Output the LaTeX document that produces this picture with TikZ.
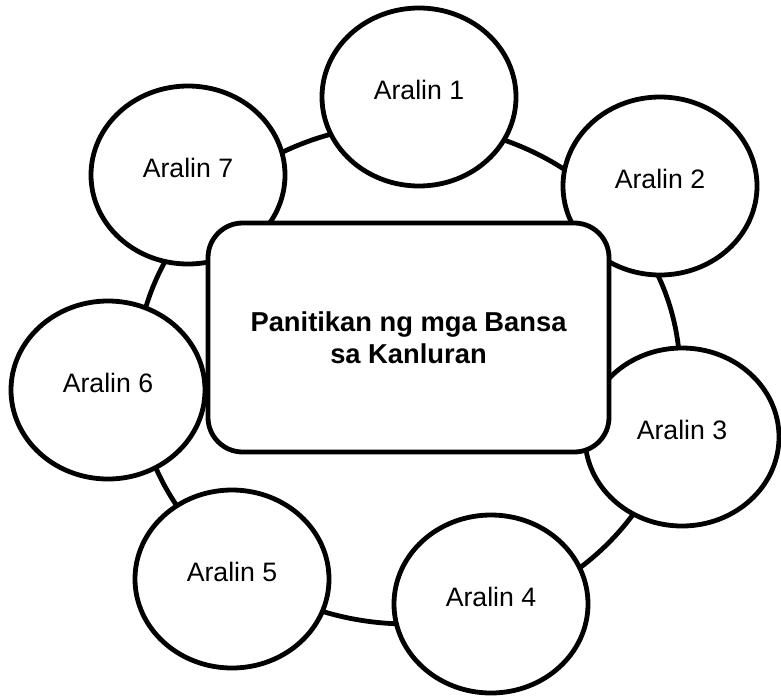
\documentclass[tikz,border=0pt]{standalone}
\usepackage{fontspec}
\setmainfont{Liberation Sans}
\usetikzlibrary{shapes.geometric}

\begin{document}
\begin{tikzpicture}[x=0.75pt, y=-0.75pt,
  lesson/.style={ellipse, draw, line width=3.6pt, fill=white,
    minimum width=145.5pt, minimum height=133.5pt, inner sep=0pt},
  lessontext/.style={font=\fontsize{20}{24}\selectfont, yshift=5pt},
  hub/.style={rectangle, rounded corners=26pt, draw, line width=3.6pt, fill=white,
    minimum width=300.75pt, minimum height=171.75pt, align=center,
    font=\bfseries\fontsize{20.5}{24}\selectfont}]
  \useasboundingbox (0,0) rectangle (781,696);
  % --- anneau ---
  \draw[line width=3.6pt] (408,374) ellipse [x radius=272, y radius=250];
  % --- les sept aralin ---
  \foreach \i/\px/\py in {1/419/97, 2/660/186, 3/682/437, 4/491/604, 5/232/579, 6/108/390, 7/188/175}
    \node[lesson, label={[lessontext, name=t\i]center:Aralin \i}] (a\i) at (\px,\py) {};
  % --- centre ---
  \node[hub] (hub) at (408.5,337.5) {Panitikan ng mga Bansa\\sa Kanluran};
\end{tikzpicture}
\end{document}
